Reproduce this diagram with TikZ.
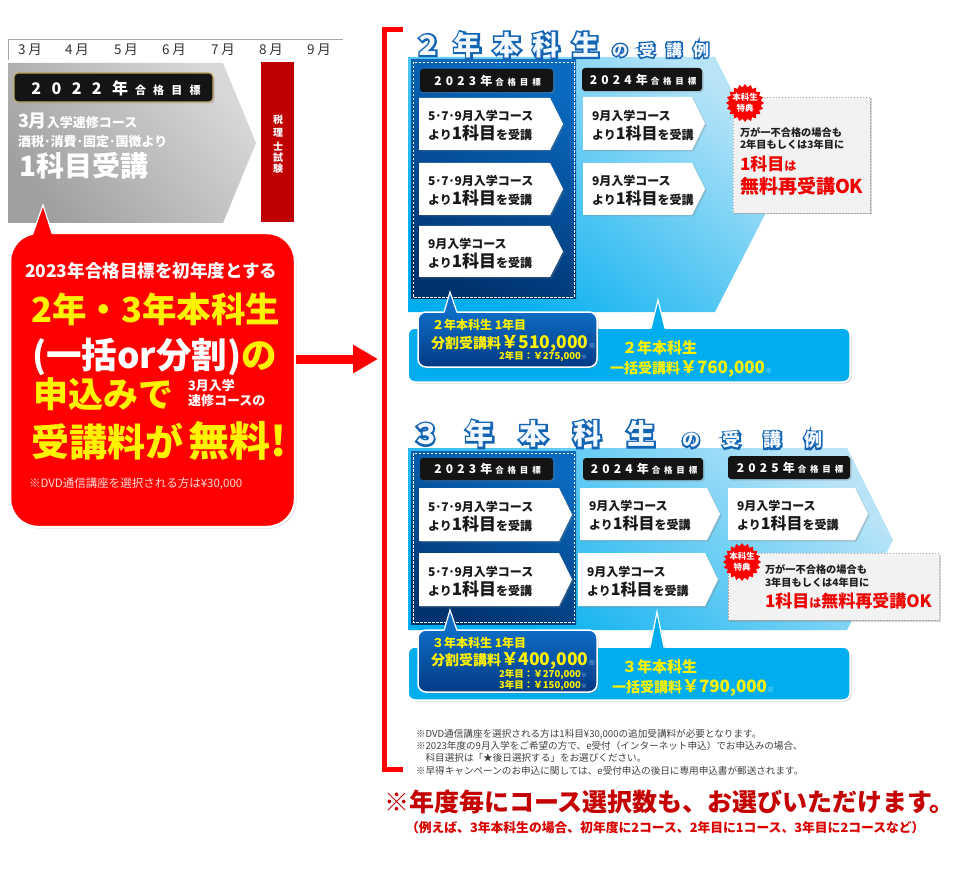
\documentclass[tikz,border=0pt]{standalone}
\usepackage{fontspec}
\setmainfont{Noto Sans CJK JP}
\usetikzlibrary{shapes.geometric,shadows,arrows.meta}
\definecolor{cyanA}{HTML}{00AEEF}
\definecolor{cyanL}{HTML}{B8E4F8}
\definecolor{navyT}{HTML}{0A6AC0}
\definecolor{navyB}{HTML}{00336F}
\definecolor{navyC}{HTML}{0E6CC4}
\definecolor{navyD}{HTML}{023A84}
\definecolor{ttlblue}{HTML}{1464B4}
\definecolor{ttlfill}{HTML}{F2F8FF}
\definecolor{ylw}{HTML}{FFF200}
\definecolor{bubred}{HTML}{FF0000}
\definecolor{barred}{HTML}{C00000}
\definecolor{hdrblk}{HTML}{141414}
\definecolor{grayT}{HTML}{D8D8D8}
\definecolor{grayB}{HTML}{A0A0A0}
\definecolor{notegray}{HTML}{404040}
\definecolor{darkred}{HTML}{C40000}
\definecolor{okred}{HTML}{F00000}
\definecolor{gold}{HTML}{BFA763}
\definecolor{boxgray}{HTML}{F2F2F2}
\newcommand\fsz[1]{\fontsize{#1}{#1}\selectfont}
\newcommand\lsp[1]{\addfontfeatures{LetterSpace=#1}}
\tikzset{
 txt/.style={inner sep=0pt, outer sep=0pt},
 cardshadow/.style={drop shadow={shadow xshift=1.5pt,shadow yshift=-1.5pt,opacity=0.3}},
 hdr/.style={fill=hdrblk, rounded corners=3pt, cardshadow},
 boxtext/.style={txt, align=left, font=\bfseries\fontsize{12}{19}\selectfont, text=black!90},
 graytext/.style={txt, anchor=base west, font=\bfseries\fsz{10.2}, text=black!88},
}
\newcommand\wbox[6]{%
  \fill[white, cardshadow] (#2,#3) -- ({#4-13},#3) -- (#4,{(#3+#5)/2}) -- ({#4-13},#5) -- (#2,#5) -- cycle;
  \node[boxtext, anchor=west] (#1) at ({#2+9},{(#3+#5)/2+2}) {#6};}
\newcommand\hdrbox[6]{%
  \fill[hdr] (#2,#3) rectangle (#4,#5);
  \node[txt, text=white, font=\bfseries] (#1) at ({(#2+#4)/2+1},{(#3+#5)/2}) {{\fsz{12}\lsp{35}#6年}\hspace{3pt}{\fsz{8.5}\lsp{45}合格目標}};}
% outlined title row: name, x(west), y(center), size, letterspace, fakebold, text
\newcommand\ttlrow[7]{%
  \node[txt, anchor=west, text=ttlblue, font=\bfseries\fsz{#4}\addfontfeatures{LetterSpace=#5,FakeBold=#6}] (#1o) at (#2,#3) {#7};
  \node[txt, anchor=west, text=ttlfill, font=\bfseries\fsz{#4}\addfontfeatures{LetterSpace=#5}] (#1) at (#2,#3) {#7};}
\newcommand\badge[3]{%
  \node[star, star points=20, star point ratio=1.2, fill=bubred, minimum size=38pt, inner sep=0pt] (#1) at (#2,#3) {};
  \node[txt, text=white, font=\bfseries\fontsize{8.5}{10.5}\selectfont, align=center] (#1t) at (#2,#3) {本科生\\特典};}
\begin{document}
\begin{tikzpicture}[x=1pt,y=-1pt]
\useasboundingbox (0,0) rectangle (960,882);
\fill[white] (0,0) rectangle (960,882);

% ---------- timeline ----------
\draw[black!35, line width=0.8] (8,60) -- (8,39) -- (343,39);
\foreach \m/\xx [count=\i] in {3/30,4/77,5/126,6/174,7/223,8/271,9/319}
  \node[txt, text=black!80, font=\fsz{13.5}] (m\i) at (\xx,50) {\m\hspace{3pt}月};

% ---------- gray chevron ----------
\shade[top color=grayT, bottom color=grayB, shading angle=-50] (8,63) -- (223,63) -- (256,143) -- (223,223) -- (8,223) -- cycle;
\draw[gold, line width=1.2, fill=hdrblk, rounded corners=4pt, cardshadow] (14,73) rectangle (213,102);
\node[txt, text=white, font=\bfseries] (h22) at (116,88) {{\fsz{16}\lsp{65}2022年}\hspace{7pt}{\fsz{11}\lsp{65}合格目標}};
\node[txt, anchor=base west, text=white, font=\bfseries] (g1) at (18,128) {{\fsz{18}3月}{\fsz{13}入学速修コース}};
\node[txt, anchor=base west, text=white, font=\bfseries\fsz{13}] (g2) at (18,147) {酒税･消費･固定･国徴より};
\node[txt, anchor=base west, text=white, font=\bfseries\fsz{28}] (g3) at (19,177) {1科目受講};

% ---------- red exam bar ----------
\fill[barred] (261,62) rectangle (294,222);
\foreach \c/\yy [count=\i] in {税/120,理/133,士/147,試/158,験/169}
  \node[txt, text=white, font=\bfseries\fsz{10}] (s\i) at (278,\yy) {\c};

% ---------- red bubble ----------
\draw[white, line width=2.5, fill=bubred, rounded corners=28pt, cardshadow] (10,233) rectangle (295,527);
\fill[bubred] (32,238) -- (43,205) -- (53,238) -- cycle;
\draw[white, line width=1.2] (33,233) -- (43,205) -- (52,233);
\node[txt, anchor=base west, text=white, font=\bfseries\fsz{17.5}] (r1) at (25,278) {2023年合格目標を初年度とする};
\node[txt, anchor=base west, text=ylw, font=\bfseries\fsz{34.5}] (r2) at (31,322) {2年・3年本科生};
\node[txt, anchor=base west, text=white, font=\bfseries\fsz{35.5}] (r3) at (32,368) {(一括or分割)\textcolor{ylw}{の}};
\node[txt, anchor=base west, text=ylw, font=\bfseries\fsz{35}] (r4) at (33,407) {申込みで};
\node[txt, anchor=base west, text=white, font=\bfseries\fsz{13}] (r5) at (188,390) {3月入学};
\node[txt, anchor=base west, text=white, font=\bfseries\fsz{13}] (r6) at (188,405) {速修コースの};
\node[txt, anchor=base west, text=ylw, font=\bfseries] (r7) at (31,456) {{\fsz{38}受講料が}\hspace{5pt}{\fsz{41}無料!}};
\node[txt, anchor=base west, text=red!15!white, font=\fsz{11.5}] (r8) at (29,487) {※DVD通信講座を選択される方は¥30,000};

% ---------- arrow and bracket ----------
\coordinate (arrS) at (296,359);
\coordinate (arrE) at (378,359);
\draw[bubred, line width=9, -{Triangle[length=25pt,width=27pt]}] (arrS) -- (arrE);
\draw[bubred, line width=5, line join=miter] (403,30) -- (384,30) -- (384,769) -- (403,769);

% ================= 2年本科生 =================
\shade[bottom color=cyanA, middle color=cyanA, top color=cyanL, shading angle=-40] (408,57) -- (715,57) -- (780,185) -- (715,312) -- (408,312) -- cycle;
\shade[top color=navyT, bottom color=navyB, shading angle=-25] (411,60) rectangle (576,299);
\draw[white, line width=0.8, dash pattern=on 2.5pt off 1.5pt] (413,62) rectangle (574,297);
\hdrbox{h2a}{420}{69}{553}{92}{2023}
\hdrbox{h2b}{582}{68}{702}{91}{2024}
\wbox{w2a}{419}{98}{563}{150}{5･7･9月入学コース\\より{\fsz{17}1科目}を受講}
\wbox{w2b}{419}{163}{563}{215}{5･7･9月入学コース\\より{\fsz{17}1科目}を受講}
\wbox{w2c}{419}{226}{563}{277}{9月入学コース\\より{\fsz{17}1科目}を受講}
\wbox{w2d}{583}{97}{705}{150}{9月入学コース\\より{\fsz{16}1科目}を受講}
\wbox{w2e}{583}{163}{705}{215}{9月入学コース\\より{\fsz{16}1科目}を受講}
\draw[black!35, dash pattern=on 1.5pt off 1.5pt, fill=boxgray, cardshadow] (733,97) rectangle (870,213);
\badge{bd2}{745}{103}
\node[graytext] (k2a) at (740,137) {万が一不合格の場合も};
\node[graytext] (k2b) at (740,149) {2年目もしくは3年目に};
\node[txt, anchor=base west, text=okred, font=\bfseries] (k2c) at (740,171) {{\fsz{17}1科目}{\fsz{12}は}};
\node[txt, anchor=base west, text=okred, font=\bfseries\fsz{19}] (k2d) at (740,194) {無料再受講OK};
% bar
\draw[white, line width=1.5, fill=cyanA, rounded corners=7pt, cardshadow] (408,328) rectangle (850,382);
\fill[cyanA] (650,331) -- (658,300) -- (666,331) -- cycle;
\draw[white, line width=1.2] (651,328.5) -- (658,300) -- (665,328.5);
\draw[white, line width=1.5, top color=navyC, bottom color=navyD, rounded corners=8pt, cardshadow] (418,312) rectangle (597,367);
\fill[navyC] (443,315) -- (450,292) -- (458,315) -- cycle;
\draw[white, line width=1.2] (444,312.5) -- (450,292) -- (457,312.5);
\node[txt, anchor=base west, text=ylw, font=\bfseries\fsz{12}] (c2a) at (432,329) {２年本科生 1年目};
\node[txt, anchor=base west, text=ylw, font=\bfseries] (c2b) at (431,348) {{\fsz{14}分割受講料}{\fsz{17.5}￥510,000}{\fsz{7}\textcolor{white!70!navyC}{※}}};
\node[txt, anchor=base east, text=ylw, font=\bfseries\fsz{9.5}] (c2c) at (587,359) {2年目：￥275,000{\fsz{6}\textcolor{white!70!navyC}{※}}};
\node[txt, anchor=base west, text=ylw, font=\bfseries\fsz{15}] (b2a) at (622,353) {２年本科生};
\node[txt, anchor=base west, text=ylw, font=\bfseries] (b2b) at (610,373) {{\fsz{14}一括受講料}{\fsz{17}￥760,000}{\fsz{7}\textcolor{white!70!cyanA}{※}}};
% title
\ttlrow{t2}{414.5}{45}{27}{46}{14}{２年本科生}
\ttlrow{t2s}{612}{50}{16}{69}{18}{の受講例}

% ================= 3年本科生 =================
\shade[bottom color=cyanA, middle color=cyanA, top color=cyanL, shading angle=-40] (408,448) -- (847,448) -- (893,540) -- (847,630) -- (408,630) -- cycle;
\shade[top color=navyT, bottom color=navyB, shading angle=-25] (411,451) rectangle (576,624);
\draw[white, line width=0.8, dash pattern=on 2.5pt off 1.5pt] (413,453) rectangle (574,622);
\hdrbox{h3a}{420}{458}{553}{480}{2023}
\hdrbox{h3b}{583}{458}{703}{480}{2024}
\hdrbox{h3c}{728}{456}{850}{479}{2025}
\wbox{w3a}{419}{488}{572}{541}{5･7･9月入学コース\\より{\fsz{17}1科目}を受講}
\wbox{w3b}{419}{553}{572}{606}{5･7･9月入学コース\\より{\fsz{17}1科目}を受講}
\wbox{w3c}{580}{488}{720}{540}{9月入学コース\\より{\fsz{16}1科目}を受講}
\wbox{w3d}{578}{553}{718}{606}{9月入学コース\\より{\fsz{16}1科目}を受講}
\wbox{w3e}{728}{488}{868}{540}{9月入学コース\\より{\fsz{16}1科目}を受講}
\draw[black!35, dash pattern=on 1.5pt off 1.5pt, fill=boxgray, cardshadow] (728,553) rectangle (939,620);
\badge{bd3}{742}{562}
\node[graytext] (k3a) at (765,573) {万が一不合格の場合も};
\node[graytext] (k3b) at (765,586) {3年目もしくは4年目に};
\node[txt, anchor=base west, text=okred, font=\bfseries] (k3c) at (765,607) {{\fsz{17}1科目}{\fsz{12}は}{\fsz{17}無料再受講OK}};
% bar
\draw[white, line width=1.5, fill=cyanA, rounded corners=7pt, cardshadow] (408,647) rectangle (850,700);
\fill[cyanA] (649,650) -- (657,612) -- (665,650) -- cycle;
\draw[white, line width=1.2] (650,647.5) -- (657,612) -- (664,647.5);
\draw[white, line width=1.5, top color=navyC, bottom color=navyD, rounded corners=8pt, cardshadow] (418,630) rectangle (597,692);
\fill[navyC] (443,633) -- (450,610) -- (458,633) -- cycle;
\draw[white, line width=1.2] (444,630.5) -- (450,610) -- (457,630.5);
\node[txt, anchor=base west, text=ylw, font=\bfseries\fsz{12}] (c3a) at (432,647) {３年本科生 1年目};
\node[txt, anchor=base west, text=ylw, font=\bfseries] (c3b) at (431,665) {{\fsz{14}分割受講料}{\fsz{17.5}￥400,000}{\fsz{7}\textcolor{white!70!navyC}{※}}};
\node[txt, anchor=base east, text=ylw, font=\bfseries\fsz{9.5}] (c3c) at (587,677) {2年目：￥270,000{\fsz{6}\textcolor{white!70!navyC}{※}}};
\node[txt, anchor=base east, text=ylw, font=\bfseries\fsz{9.5}] (c3d) at (587,688) {3年目：￥150,000{\fsz{6}\textcolor{white!70!navyC}{※}}};
\node[txt, anchor=base west, text=ylw, font=\bfseries\fsz{15}] (b3a) at (622,672) {３年本科生};
\node[txt, anchor=base west, text=ylw, font=\bfseries] (b3b) at (612,692) {{\fsz{14}一括受講料}{\fsz{17}￥790,000}{\fsz{7}\textcolor{white!70!cyanA}{※}}};
% title
\ttlrow{t3}{412}{434}{28}{92}{14}{３年本科生}
\ttlrow{t3s}{682}{440}{18}{126}{17}{の受講例}

% ================= footer =================
\node[txt, anchor=base west, text=notegray, font=\fsz{9.6}] (f1) at (416,737.5) {※DVD通信講座を選択される方は1科目¥30,000の追加受講料が必要となります。};
\node[txt, anchor=base west, text=notegray, font=\fsz{9.6}] (f2) at (416,749.5) {※2023年度の9月入学をご希望の方で、e受付（インターネット申込）でお申込みの場合、};
\node[txt, anchor=base west, text=notegray, font=\fsz{9.6}] (f3) at (416,761.5) {　科目選択は「★後日選択する」をお選びください。};
\node[txt, anchor=base west, text=notegray, font=\fsz{9.6}] (f4) at (416,774.5) {※早得キャンペーンのお申込に関しては、e受付申込の後日に専用申込書が郵送されます。};
\node[txt, anchor=base west, text=darkred, font=\bfseries\fsz{25}] (f5) at (384,811) {※年度毎にコース選択数も、お選びいただけます。};
\node[txt, anchor=base west, text=red!85!black, font=\bfseries\fsz{12.8}] (f6) at (406,832) {（例えば、3年本科生の場合、初年度に2コース、2年目に1コース、3年目に2コースなど）};
\end{tikzpicture}
\end{document}
